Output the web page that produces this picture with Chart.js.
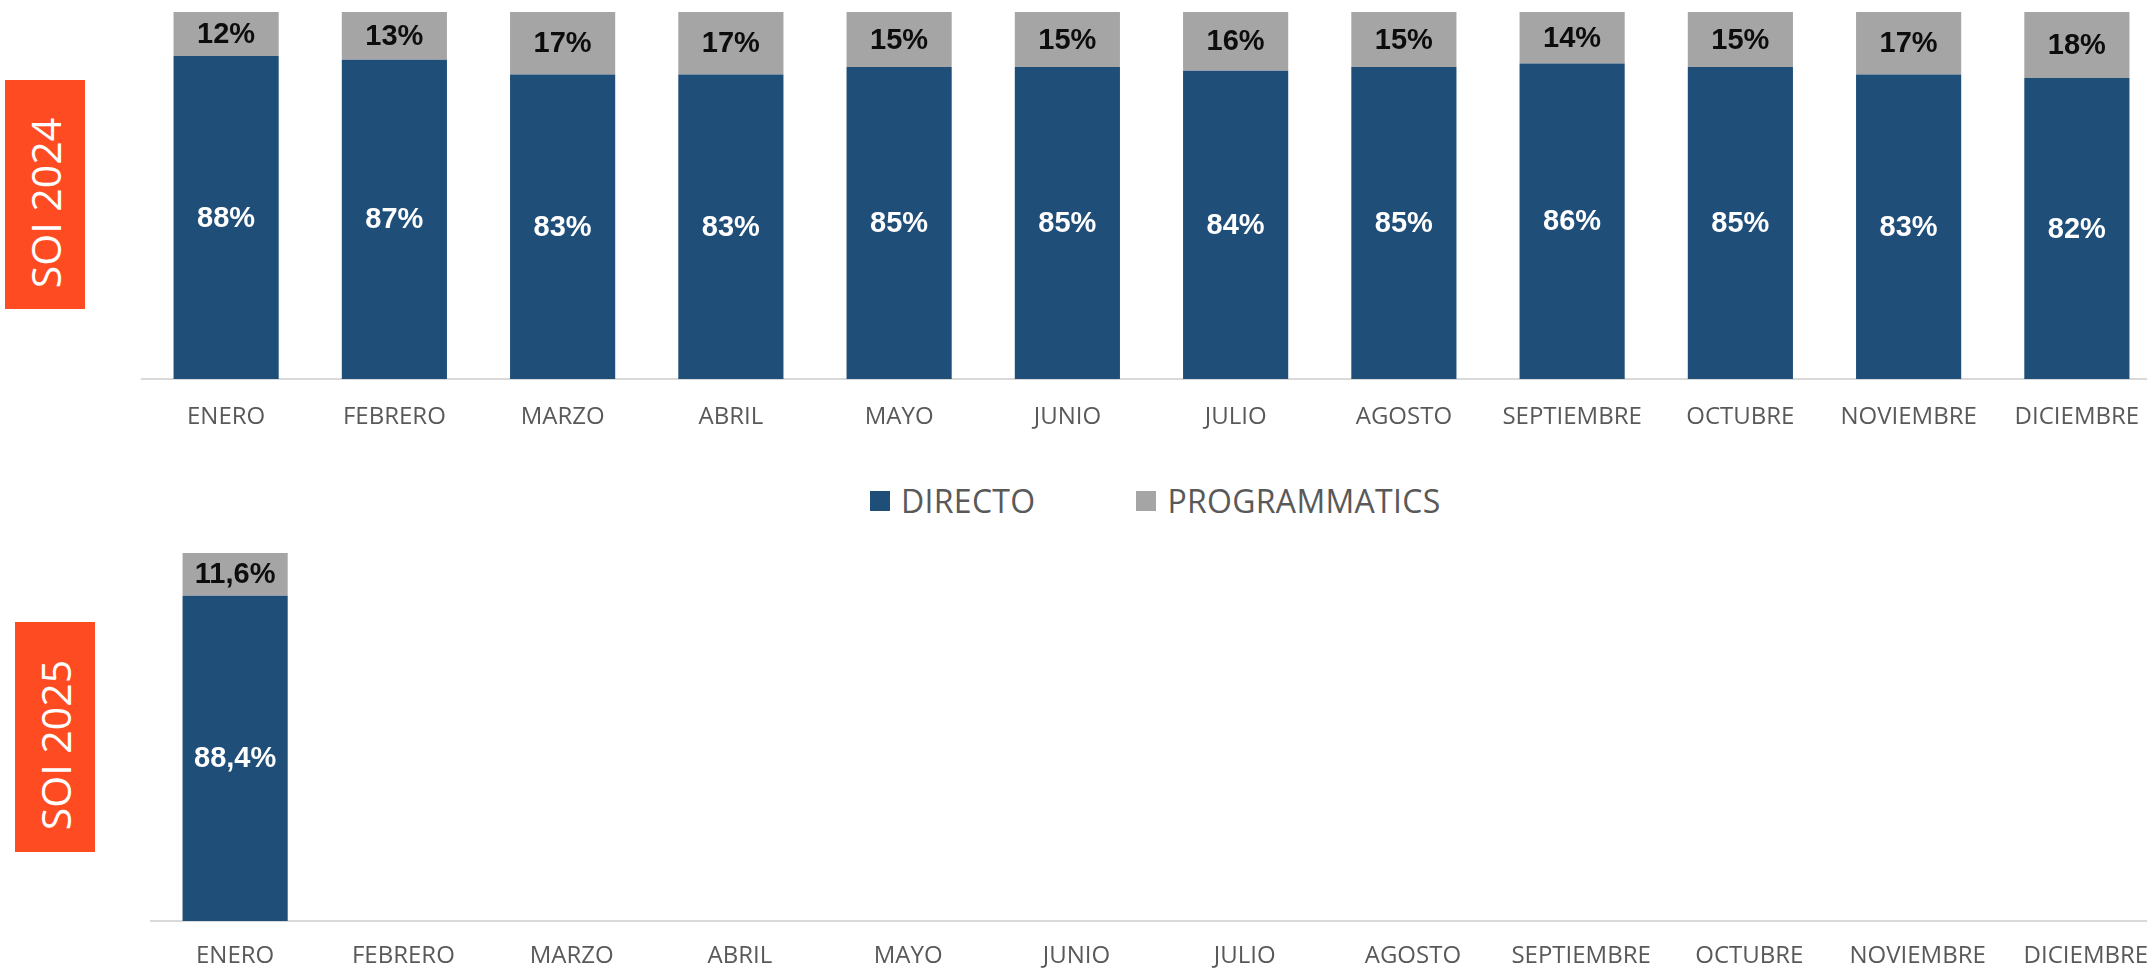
<!DOCTYPE html>
<html>
<head>
<meta charset="utf-8">
<script src="https://cdn.jsdelivr.net/npm/chart.js@4.4.1/dist/chart.umd.min.js"></script>
<style>
html,body{margin:0;padding:0;width:2147px;height:968px;overflow:hidden;background:#ffffff;}
.wrap{position:absolute;left:0;line-height:0;}
#w1{top:0;}
#w2{top:500px;}
.soi{position:absolute;background:#FF4B21;display:flex;align-items:center;justify-content:center;overflow:hidden;}
.soi span{color:#ffffff;font-family:'Open Sans',sans-serif;font-size:41px;white-space:nowrap;transform:rotate(-90deg) translateX(-8px);}
#legend{position:absolute;left:870px;top:485px;height:32px;display:flex;align-items:center;gap:101px;}
.li{display:flex;align-items:center;height:32px;}
.lb{width:20px;height:20px;margin-right:11px;}
.lt{font-family:'Open Sans',sans-serif;font-size:32px;line-height:32px;color:#595959;white-space:nowrap;letter-spacing:0.3px;}
</style>
</head>
<body>
<div class="soi" style="left:5px;top:80px;width:80px;height:229px;"><span>SOI 2024</span></div>
<div class="soi" style="left:15px;top:622px;width:80px;height:230px;"><span>SOI 2025</span></div>
<div class="wrap" id="w1"><canvas id="c1" width="2200" height="440"></canvas></div>
<div id="legend"></div>
<div class="wrap" id="w2"><canvas id="c2" width="2200" height="520"></canvas></div>
<script>
const months = ['ENERO','FEBRERO','MARZO','ABRIL','MAYO','JUNIO','JULIO','AGOSTO','SEPTIEMBRE','OCTUBRE','NOVIEMBRE','DICIEMBRE'];
const seriesNames = ['DIRECTO','PROGRAMMATICS'];
const directo2024 = [88,87,83,83,85,85,84,85,86,85,83,82];
const programmatic2024 = [12,13,17,17,15,15,16,15,14,15,17,18];
const directo2025 = [88.4,null,null,null,null,null,null,null,null,null,null,null];
const programmatic2025 = [11.6,null,null,null,null,null,null,null,null,null,null,null];

const COL_DIR = '#1F4E78';
const COL_PROG = '#A5A5A5';

const fmt = v => String(v).replace('.', ',') + '%';

const segLabels = {
  id: 'segLabels',
  afterDatasetsDraw(chart) {
    const ctx = chart.ctx;
    chart.data.datasets.forEach((ds, di) => {
      const meta = chart.getDatasetMeta(di);
      if (meta.hidden) return;
      meta.data.forEach((el, i) => {
        const v = ds.data[i];
        if (v === null || v === undefined) return;
        const p = el.getProps(['x','y','base'], true);
        ctx.save();
        ctx.font = 'bold 29px "Liberation Sans", Arial, sans-serif';
        ctx.fillStyle = ds.labelColor;
        ctx.textAlign = 'center';
        ctx.textBaseline = 'middle';
        ctx.fillText(fmt(v), p.x, (p.y + p.base) / 2 + 1);
        ctx.restore();
      });
    });
  }
};

function makeDatasets(dir, prog) {
  return [
    {label: seriesNames[0], data: dir, backgroundColor: COL_DIR, labelColor: '#ffffff', borderWidth: 0,
     barPercentage: 0.625, categoryPercentage: 1.0},
    {label: seriesNames[1], data: prog, backgroundColor: COL_PROG, labelColor: '#0d0d0d', borderWidth: 0,
     barPercentage: 0.625, categoryPercentage: 1.0}
  ];
}

function makeOptions(pad, axisH, tickPad) {
  return {
    responsive: false,
    animation: false,
    devicePixelRatio: 1,
    layout: {padding: pad},
    plugins: {legend: {display: false}, tooltip: {enabled: false}, title: {display: false}},
    scales: {
      x: {
        stacked: true,
        grid: {display: false, drawTicks: false},
        border: {display: true, color: '#D9D9D9', width: 2},
        ticks: {color: '#595959', font: {family: 'Open Sans', size: 24}, padding: tickPad, maxRotation: 0, autoSkip: false},
        afterFit(s) { s.height = axisH; }
      },
      y: {stacked: true, display: false, min: 0, max: 100}
    }
  };
}

const chart1 = new Chart(document.getElementById('c1'), {
  type: 'bar',
  data: {labels: months, datasets: makeDatasets(directo2024, programmatic2024)},
  options: makeOptions({left: 142, right: 39, top: 12, bottom: 0}, 61, 24),
  plugins: [segLabels]
});

const chart2 = new Chart(document.getElementById('c2'), {
  type: 'bar',
  data: {labels: months, datasets: makeDatasets(directo2025, programmatic2025)},
  options: makeOptions({left: 151, right: 30, top: 53, bottom: 0}, 99, 21),
  plugins: [segLabels]
});

// HTML legend built from the chart's datasets
const legend = document.getElementById('legend');
chart1.data.datasets.forEach(ds => {
  const item = document.createElement('div');
  item.className = 'li';
  const box = document.createElement('div');
  box.className = 'lb';
  box.style.background = ds.backgroundColor;
  const txt = document.createElement('span');
  txt.className = 'lt';
  txt.textContent = ds.label;
  item.appendChild(box);
  item.appendChild(txt);
  legend.appendChild(item);
});
</script>
</body>
</html>
